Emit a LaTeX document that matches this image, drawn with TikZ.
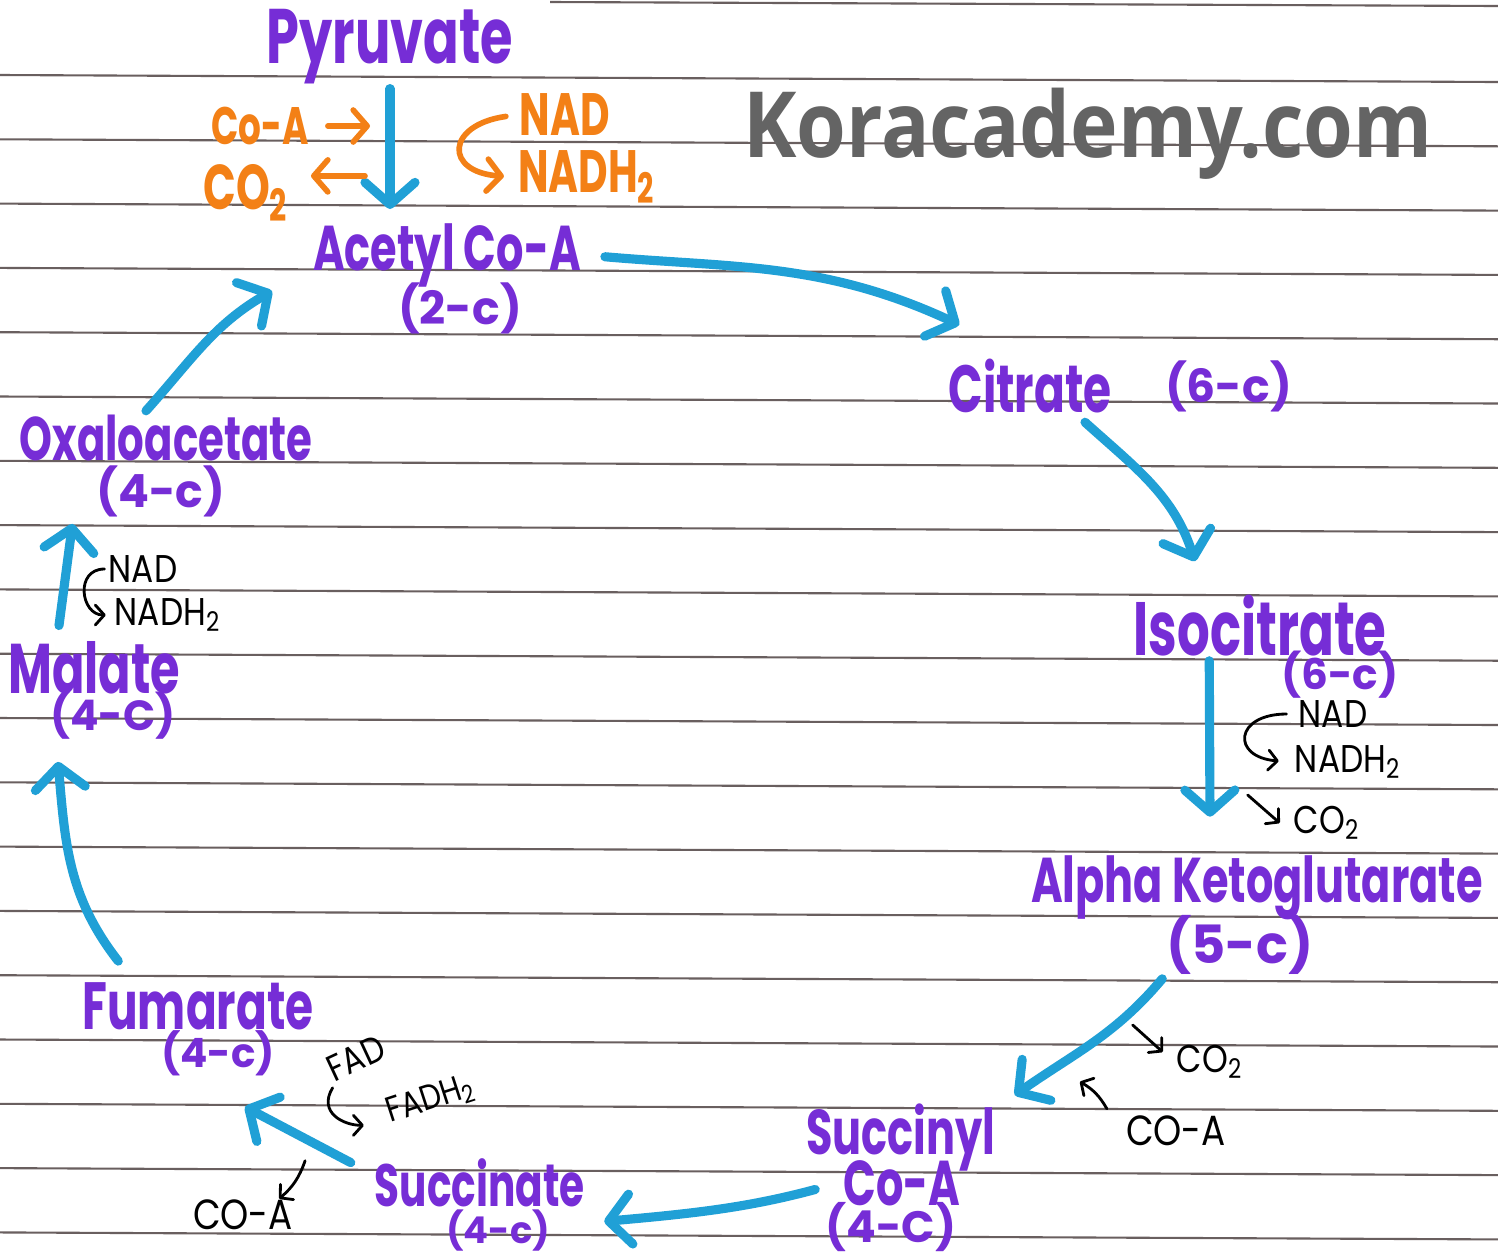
\documentclass[tikz,border=0pt]{standalone}
\usepackage{fontspec}
\usetikzlibrary{positioning,arrows.meta}
\newfontfamily\hand[FakeStretch=0.68]{Poppins}
\newfontfamily\wide{Poppins}
\newfontfamily\pen[FakeStretch=0.85]{Poppins}
\newfontfamily\brand[FakeStretch=0.88]{Open Sans}
\definecolor{pur}{RGB}{118,45,214}
\definecolor{sky}{RGB}{32,160,214}
\definecolor{ora}{RGB}{243,128,22}
\definecolor{ruleline}{RGB}{105,95,95}
\definecolor{brandgray}{RGB}{100,100,100}

\begin{document}
\begin{tikzpicture}[
  cmpd/.style={text=pur, inner sep=1pt, font=\hand\bfseries\fontsize{#1}{#1}\selectfont},
  carb/.style={text=pur, inner sep=1pt, font=\wide\bfseries\fontsize{#1}{#1}\selectfont},
  orng/.style={text=ora, inner sep=1pt, font=\hand\bfseries\fontsize{#1}{#1}\selectfont},
  note/.style={inner sep=1pt, font=\pen\fontsize{#1}{#1}\selectfont},
  ruling/.style={ruleline, line width=0.6pt},
  flow/.style={sky, line width=2.6pt, line cap=round, -{Straight Barb[length=0.22cm, width=0.5cm, round]}},
  side/.style={ora, line width=1.6pt, line cap=round, -{Straight Barb[length=0.14cm, width=0.32cm, round]}},
  aux/.style={black, line width=0.8pt, line cap=round, -{Straight Barb[length=0.09cm, width=0.2cm, round]}}]

\path[use as bounding box, fill=white] (0,0) rectangle (14.98,-12.58);

% ruled paper
\draw[ruling] (5.5,-0.02) -- (14.98,-0.06);
\foreach \k in {0,...,18}
  \draw[ruling] (0,{-0.75-0.643*\k}) -- (14.98,{-0.82-0.643*\k});

\node[font=\brand\bfseries\fontsize{26}{26}\selectfont, text=brandgray] (brand) at (10.88,-1.34) {Koracademy.com};

% Compounds
\node[cmpd=22] (pyr) at (3.90,-0.47) {Pyruvate};
\node[cmpd=18] (acetyl) at (4.47,-2.55) {Acetyl Co-A};
\node[carb=13] (acetylc) at (4.60,-3.08) {(2-c)};
\node[cmpd=19] (citrate) at (10.30,-3.86) {Citrate};
\node[carb=13, right=0.45cm of citrate] (citratec) {(6-c)};
\node[cmpd=21.5] (iso) at (12.60,-6.26) {Isocitrate};
\node[carb=12] (isoc) at (13.40,-6.75) {(6-c)};
\node[cmpd=18] (akg) at (12.57,-8.88) {Alpha Ketoglutarate};
\node[carb=15] (akgc) at (12.40,-9.45) {(5-c)};
\node[cmpd=18] (sucoa) at (9.01,-11.38) {Succinyl};
\node[cmpd=18] (sucoa2) at (9.02,-11.83) {Co-A};
\node[carb=12.5] (sucoac) at (8.91,-12.27) {(4-C)};
\node[cmpd=17] (succ) at (4.80,-11.83) {Succinate};
\node[carb=10.5] (succc) at (4.98,-12.30) {(4-c)};
\node[cmpd=19] (fum) at (1.98,-10.06) {Fumarate};
\node[carb=11.5] (fumc) at (2.18,-10.53) {(4-c)};
\node[cmpd=20] (mal) at (0.94,-6.68) {Malate};
\node[carb=12] (malc) at (1.13,-7.16) {(4-C)};
\node[cmpd=17.5] (oxa) at (1.66,-4.38) {Oxaloacetate};
\node[carb=13] (oxac) at (1.61,-4.91) {(4-c)};

% Pyruvate step
\node[orng=15] (ocoa) at (2.60,-1.26) {Co-A};
\node[orng=18] (oco2) at (2.46,-1.93) {CO\textsubscript{2}};
\node[orng=17] (onad) at (5.65,-1.15) {NAD};
\node[orng=17] (onadh) at (5.87,-1.77) {NADH\textsubscript{2}};

% Side products
\node[note=11] (inad) at (13.33,-7.14) {NAD};
\node[note=11] (inadh) at (13.48,-7.62) {NADH\textsubscript{2}};
\node[note=11] (ico2) at (13.27,-8.23) {CO\textsubscript{2}};
\node[note=11] (aco2) at (12.10,-10.62) {CO\textsubscript{2}};
\node[note=12] (acoa) at (11.76,-11.31) {CO-A};
\node[note=12] (scoa) at (2.43,-12.15) {CO-A};
\node[note=10.5, rotate=25] (fad) at (3.56,-10.58) {FAD};
\node[note=10, rotate=18] (fadh) at (4.31,-11.00) {FADH\textsubscript{2}};
\node[note=11] (mnad) at (1.43,-5.69) {NAD};
\node[note=11] (mnadh) at (1.68,-6.15) {NADH\textsubscript{2}};

% Edges
\draw[flow, shorten >=0.1cm] (pyr.south) -- (pyr.south |- acetyl.north);
\draw[flow, shorten <=0.2cm] (acetyl.east) to[out=-5, in=155] ([xshift=0.15cm, yshift=0.3cm]citrate.north west);
\draw[flow] ([xshift=0.55cm, yshift=-0.05cm]citrate.south) to[out=-42, in=108] ([xshift=-0.65cm, yshift=0.3cm]iso.north);
\draw[flow] ([xshift=0.8cm]iso.south west) -- ([xshift=-0.47cm, yshift=0.35cm]akg.north);
\draw[flow] (akgc.south west) to[out=230, in=35] ([xshift=0.15cm, yshift=0.05cm]sucoa.north east);
\draw[flow, shorten <=0.25cm] (sucoa2.west) to[out=195, in=5] ([xshift=0.15cm, yshift=-0.1cm]succ.south east);
\draw[flow] ([xshift=-0.2cm, yshift=-0.08cm]succ.north west) -- ([xshift=0.27cm, yshift=-0.27cm]fumc.south);
\draw[flow] ([xshift=0.4cm, yshift=0.17cm]fum.north west) to[out=128, in=-85] ([xshift=-0.55cm, yshift=-0.18cm]malc.south);
\draw[flow] ([xshift=-0.35cm, yshift=0.12cm]mal.north) -- ([xshift=-0.2cm, yshift=-0.03cm]oxac.south west);
\draw[flow] ([xshift=-0.2cm]oxa.north) to[out=48, in=-150] ([xshift=-0.37cm]acetyl.south west);

\draw[side, shorten <=0.15cm, shorten >=0.2cm] (ocoa.east) -- (ocoa.east -| pyr.south);
\draw[side, shorten <=0.25cm, shorten >=0.18cm] (oco2.20 -| pyr.south) -- (oco2.20);
\draw[side, shorten <=0.1cm, shorten >=0.1cm] (onad.west) .. controls +(-0.7,-0.1) and +(-0.7,0.05) .. (onadh.west);

\draw[aux, shorten <=0.08cm, shorten >=0.12cm] (inad.west) .. controls +(-0.6,0) and +(-0.6,0.05) .. (inadh.west);
\draw[aux] ([xshift=-0.42cm, yshift=0.28cm]ico2.west) -- ([xshift=-0.1cm]ico2.west);
\draw[aux] ([xshift=-0.4cm, yshift=0.37cm]aco2.west) -- ([xshift=-0.1cm, yshift=0.1cm]aco2.west);
\draw[aux] ([xshift=-0.15cm, yshift=0.03cm]acoa.north west) to[bend right=15] ([xshift=-0.42cm, yshift=0.3cm]acoa.north west);
\draw[aux] ([xshift=0.08cm, yshift=0.35cm]scoa.north east) to[bend left=15] ([xshift=-0.18cm, yshift=-0.03cm]scoa.north east);
\draw[aux] (fad.south west) .. controls +(-0.15,-0.25) and +(-0.2,0) .. ([xshift=-0.2cm, yshift=-0.1cm]fadh.west);
\draw[aux, shorten >=0.05cm] (mnad.west) .. controls +(-0.3,0) and +(-0.3,0) .. (mnadh.west);

\end{tikzpicture}
\end{document}
